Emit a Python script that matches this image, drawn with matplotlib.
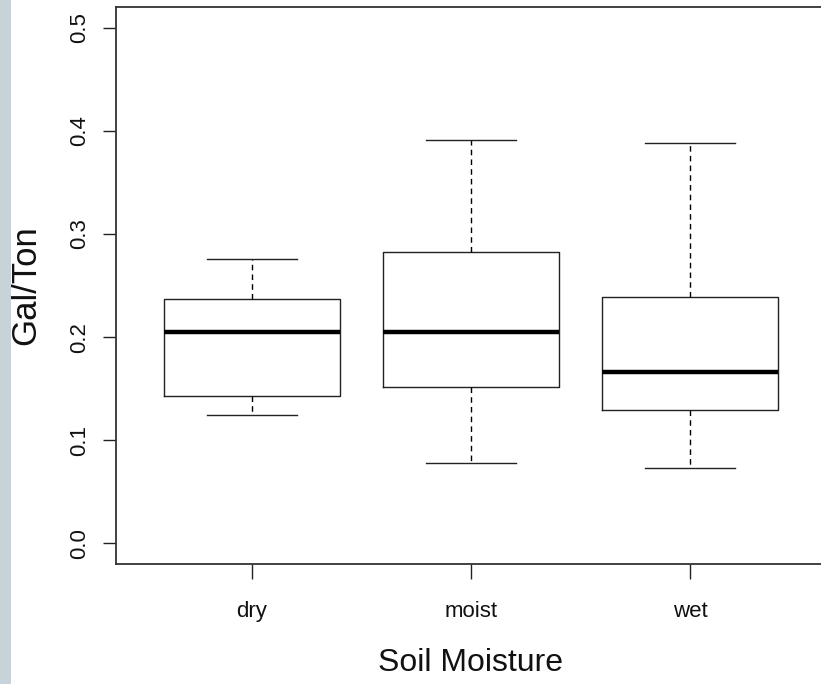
import matplotlib
matplotlib.use("Agg")

import matplotlib.pyplot as plt
import matplotlib.patches as mpatches


# box statistics
categories = ["dry", "moist", "wet"]
whisker_low = [0.1245, 0.078, 0.0727]
quartile_1 = [0.143, 0.152, 0.129]
medians = [0.205, 0.205, 0.166]
quartile_3 = [0.237, 0.282, 0.239]
whisker_high = [0.276, 0.391, 0.388]

y_ticks = [0.0, 0.1, 0.2, 0.3, 0.4, 0.5]

plt.rcParams["font.family"] = ["Liberation Sans", "DejaVu Sans"]

fig = plt.figure(figsize=(8.21, 6.84), dpi=100)
fig.patch.set_facecolor("white")

# grey strip down the left edge of the screenshot
fig.patches.append(mpatches.Rectangle(
    (0, 0), 11 / 821, 1, transform=fig.transFigure,
    facecolor="#c8d2d9", edgecolor="none", zorder=0
))

ax = fig.add_axes([116 / 821, 120 / 684, 705 / 821, 557 / 684])

stats = []
for name, lo, q1, med, q3, hi in zip(
    categories, whisker_low, quartile_1, medians, quartile_3, whisker_high
):
    stats.append({
        "label": name,
        "whislo": lo,
        "q1": q1,
        "med": med,
        "q3": q3,
        "whishi": hi,
        "fliers": [],
    })

ax.bxp(
    stats,
    positions=[1, 2, 3],
    widths=0.8,
    capwidths=0.41,
    showfliers=False,
    boxprops=dict(color="#222222", linewidth=1.0),
    medianprops=dict(color="black", linewidth=3.2, solid_capstyle="butt"),
    whiskerprops=dict(color="black", linewidth=1.0, linestyle=(0, (4, 3))),
    capprops=dict(color="#222222", linewidth=1.0),
)

ax.set_xlim(0.379, 3.598)
ax.set_ylim(-0.02, 0.52)

ax.set_yticks(y_ticks)
ax.set_yticklabels([f"{v:.1f}" for v in y_ticks], rotation=90,
                   va="center", fontsize=16, color="#111111")
ax.tick_params(axis="y", length=9.4, width=1.0, pad=9, colors="#222222",
               labelcolor="#111111")

ax.set_xticks([1, 2, 3])
ax.set_xticklabels(categories, fontsize=16)
ax.tick_params(axis="x", length=10.8, width=1.0, pad=16, colors="#222222",
               labelcolor="#111111")

for side in ["left", "bottom", "top"]:
    ax.spines[side].set_color("#333333")
    ax.spines[side].set_linewidth(1.3)
ax.spines["right"].set_visible(False)

ax.set_xlabel("Soil Moisture", fontsize=23, color="#111111", va="center")
ax.xaxis.set_label_coords(0.5035, -0.178)
ax.set_ylabel("Gal/Ton", fontsize=25, color="#111111", va="center")
ax.yaxis.set_label_coords(-0.1277, 0.5)

fig.savefig("out.png", dpi=100)
